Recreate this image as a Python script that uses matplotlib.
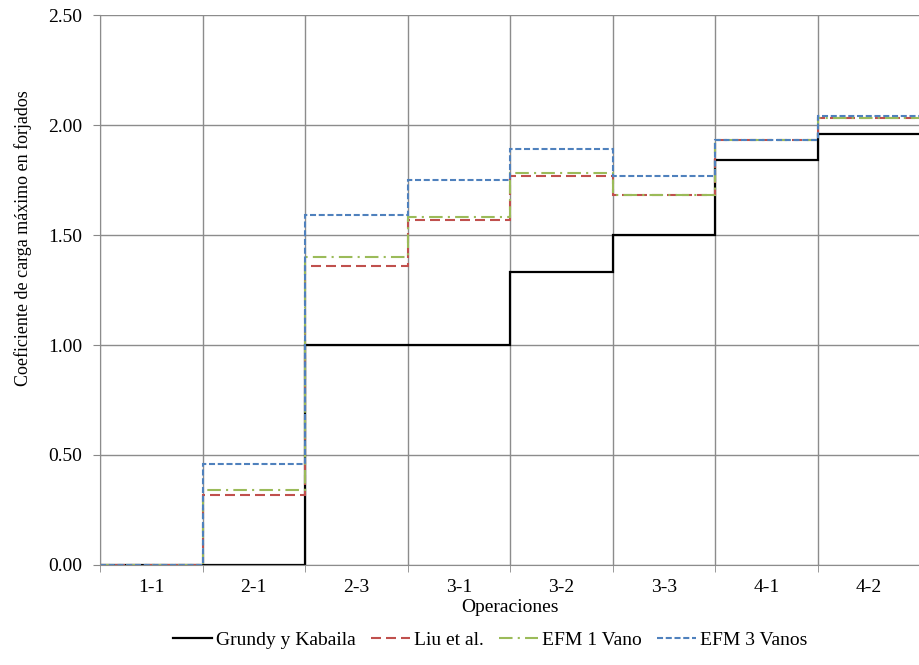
import numpy as np
import matplotlib
matplotlib.use("Agg")
import matplotlib.pyplot as plt

# =============================================================================
# Data
# =============================================================================
operaciones = ['1-1', '2-1', '2-3', '3-1', '3-2', '3-3', '4-1', '4-2']
grundy = [0.00, 0.00, 1.00, 1.00, 1.33, 1.50, 1.84, 1.96]
liu = [0.00, 0.32, 1.36, 1.57, 1.77, 1.68, 1.93, 2.03]
efm1 = [0.00, 0.34, 1.40, 1.58, 1.78, 1.68, 1.93, 2.03]
efm3 = [0.00, 0.46, 1.59, 1.75, 1.89, 1.77, 1.93, 2.04]

# =============================================================================
# Plot
# =============================================================================
plt.rcParams['font.family'] = ['Liberation Serif', 'DejaVu Serif']
plt.rcParams['font.size'] = 14

fig = plt.figure(figsize=(9.2, 6.65), dpi=100)
ax = fig.add_axes([0.1087, 0.1504, 0.8913, 0.8270])

edges = np.arange(len(operaciones) + 1)
ax.stairs(grundy, edges, color='black', lw=1.6, label='Grundy y Kabaila', baseline=None)
ax.stairs(liu, edges, color='#C0504D', lw=1.5, ls=(0, (4.8, 2.4)), label='Liu et al.', baseline=None)
ax.stairs(efm1, edges, color='#9BBB59', lw=1.5, ls=(0, (6.5, 2.5, 1, 2.5)), label='EFM 1 Vano', baseline=None)
ax.stairs(efm3, edges, color='#4F81BD', lw=1.5, ls=(0, (2.9, 1.3)), label='EFM 3 Vanos', baseline=None)

ax.set_xlim(0, 7.91)
ax.set_ylim(0, 2.5)
yt = np.arange(0, 2.51, 0.5)
ax.set_yticks(yt)
ax.set_yticklabels(['%.2f' % v for v in yt])
ax.set_xticks(edges[:-1] + 0.5)
ax.set_xticklabels(operaciones)
ax.set_xticks(edges, minor=True)
ax.tick_params(axis='x', which='major', length=0, pad=10)
ax.tick_params(axis='x', which='minor', length=5, color='#888888')
ax.tick_params(axis='y', length=5, color='#888888', pad=8)

ax.grid(True, which='minor', axis='x', color='#8c8c8c', lw=1)
ax.grid(True, which='major', axis='y', color='#8c8c8c', lw=1)
ax.set_axisbelow(True)
for s in ['top', 'right']:
    ax.spines[s].set_visible(False)
ax.spines['left'].set_color('#8c8c8c')
ax.spines['bottom'].set_color('#8c8c8c')

ax.set_xlabel('Operaciones', labelpad=2)
ax.set_ylabel('Coeficiente de carga máximo en forjados', fontsize=13)
ax.yaxis.set_label_coords(-0.083, 0.595)

ax.legend(loc='center', bbox_to_anchor=(0.476, -0.136), ncol=4, frameon=False,
          handlelength=2.0, handletextpad=0.2, columnspacing=0.8)

fig.savefig('out.png', dpi=100)
